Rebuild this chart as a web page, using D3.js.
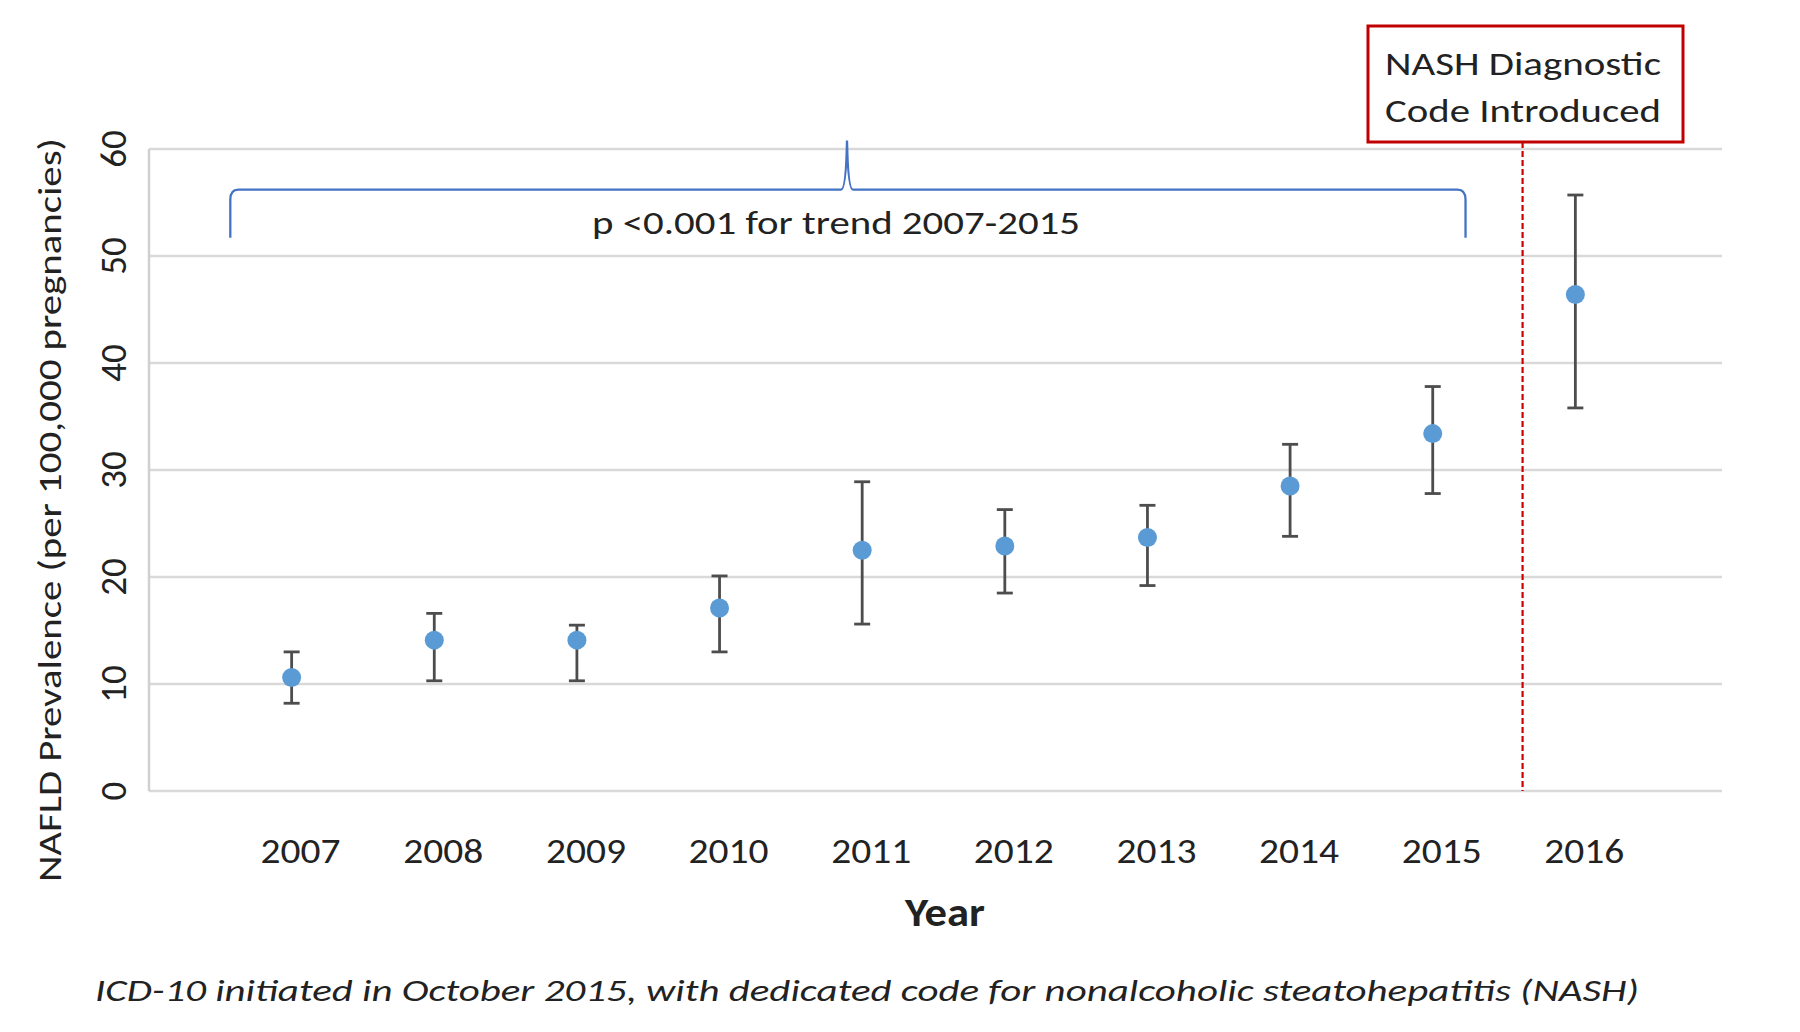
<!DOCTYPE html>
<html><head><meta charset="utf-8">
<script src="https://cdn.jsdelivr.net/npm/d3@7"></script>
<style>
html,body{margin:0;padding:0;background:#fff;}
svg{display:block;}
text{font-family:Carlito, Calibri, Lato, "Open Sans", sans-serif;}
</style></head>
<body>
<svg id="chart" width="1800" height="1032"></svg>
<script>
const years = ["2007","2008","2009","2010","2011","2012","2013","2014","2015","2016"];
const prevalence = [10.6, 14.1, 14.1, 17.1, 22.5, 22.9, 23.7, 28.5, 33.4, 46.4];
const upperCI   = [13.0, 16.6, 15.5, 20.1, 28.9, 26.3, 26.7, 32.4, 37.8, 55.7];
const lowerCI   = [ 8.2, 10.3, 10.3, 13.0, 15.6, 18.5, 19.2, 23.8, 27.8, 35.8];
const yTicks = [0, 10, 20, 30, 40, 50, 60];
const yTitle = "NAFLD Prevalence (per 100,000 pregnancies)";
const xTitle = "Year";
const trendText = "p <0.001 for trend 2007-2015";
const nashLines = ["NASH Diagnostic", "Code Introduced"];
const footnote = "ICD-10 initiated in October 2015, with dedicated code for nonalcoholic steatohepatitis (NASH)";

const svg = d3.select("#chart");
const L = 149, R = 1722, T = 149, B = 791;

const x = d3.scalePoint().domain(years).range([L, R - 4]).padding(1);
const y = d3.scaleLinear().domain([0, 60]).range([B, T]);
const step = x.step();

// gridlines
svg.append("g").selectAll("line").data(yTicks).join("line")
  .attr("x1", L).attr("x2", R)
  .attr("y1", d => y(d)).attr("y2", d => y(d))
  .attr("stroke", "#d9d9d9").attr("stroke-width", 2.5);
// left border
svg.append("line").attr("x1", L).attr("x2", L).attr("y1", y(60)).attr("y2", y(0))
  .attr("stroke", "#d0d0d0").attr("stroke-width", 2.5);

// y tick labels (rotated)
svg.append("g").selectAll("text").data(yTicks).join("text")
  .attr("transform", d => `translate(${126},${y(d)}) rotate(-90)`)
  .attr("text-anchor", "middle")
  .attr("font-size", 37).attr("fill", "#222")
  .text(d => d);

// y title
svg.append("text")
  .attr("transform", `translate(${61},${510}) rotate(-90)`)
  .attr("text-anchor", "middle")
  .attr("font-size", 33).attr("fill", "#222")
  .attr("textLength", 744).attr("lengthAdjust", "spacingAndGlyphs")
  .text(yTitle);

// x tick labels
svg.append("g").selectAll("text").data(years).join("text")
  .attr("x", d => x(d) + 9).attr("y", 863)
  .attr("text-anchor", "middle")
  .attr("font-size", 35).attr("fill", "#222")
  .attr("textLength", 80).attr("lengthAdjust", "spacingAndGlyphs")
  .text(d => d);

// x title
svg.append("text").attr("x", 945).attr("y", 926)
  .attr("text-anchor", "middle").attr("font-weight", "bold")
  .attr("font-size", 40).attr("fill", "#222")
  .attr("textLength", 80).attr("lengthAdjust", "spacingAndGlyphs")
  .text(xTitle);

// NASH line (October 2015)
const xNash = x("2015") + 0.63 * step;
svg.append("line").attr("x1", xNash).attr("x2", xNash)
  .attr("y1", 142).attr("y2", y(0))
  .attr("stroke", "#d00000").attr("stroke-width", 2.2).attr("stroke-dasharray", "6,3");

// NASH box
svg.append("rect").attr("x", 1368).attr("y", 26).attr("width", 315).attr("height", 116)
  .attr("fill", "#fff").attr("stroke", "#c00000").attr("stroke-width", 3);
svg.append("g").selectAll("text").data(nashLines).join("text")
  .attr("x", 1523).attr("y", (d, i) => 75 + i * 47)
  .attr("text-anchor", "middle").attr("font-size", 33).attr("fill", "#222")
  .attr("textLength", 276).attr("lengthAdjust", "spacingAndGlyphs")
  .text(d => d);

// brace
const bl = x("2007") - 0.43 * step, br = x("2015") + 0.23 * step;
const bMid = 847;
const yH = y(56.2), yEnd = y(51.7), yTip = y(60.8);
const bracePath = `M${bl},${yEnd} L${bl},${yH + 10} Q${bl},${yH} ${bl + 8},${yH} L${bMid - 6},${yH} Q${bMid - 1},${yH} ${bMid},${yTip} Q${bMid + 1},${yH} ${bMid + 6},${yH} L${br - 8},${yH} Q${br},${yH} ${br},${yH + 10} L${br},${yEnd}`;
svg.append("path").attr("d", bracePath).attr("fill", "none")
  .attr("stroke", "#4472c4").attr("stroke-width", 2.3);

svg.append("text").attr("x", 836).attr("y", 234)
  .attr("text-anchor", "middle").attr("font-size", 33).attr("fill", "#222")
  .attr("textLength", 488).attr("lengthAdjust", "spacingAndGlyphs")
  .text(trendText);

// error bars
const eb = svg.append("g").attr("stroke", "#4d4d4d").attr("stroke-width", 2.8);
years.forEach((yr, i) => {
  const cx = x(yr);
  eb.append("line").attr("x1", cx).attr("x2", cx).attr("y1", y(upperCI[i])).attr("y2", y(lowerCI[i]));
  eb.append("line").attr("x1", cx - 8).attr("x2", cx + 8).attr("y1", y(upperCI[i])).attr("y2", y(upperCI[i]));
  eb.append("line").attr("x1", cx - 8).attr("x2", cx + 8).attr("y1", y(lowerCI[i])).attr("y2", y(lowerCI[i]));
});

// points
svg.append("g").selectAll("circle").data(years).join("circle")
  .attr("cx", d => x(d)).attr("cy", (d, i) => y(prevalence[i]))
  .attr("r", 9.5).attr("fill", "#5b9bd5");

// footnote
svg.append("text").attr("x", 95).attr("y", 1001)
  .attr("font-style", "italic").attr("font-size", 31).attr("fill", "#222")
  .attr("textLength", 1544).attr("lengthAdjust", "spacingAndGlyphs")
  .text(footnote);
</script>
</body></html>
